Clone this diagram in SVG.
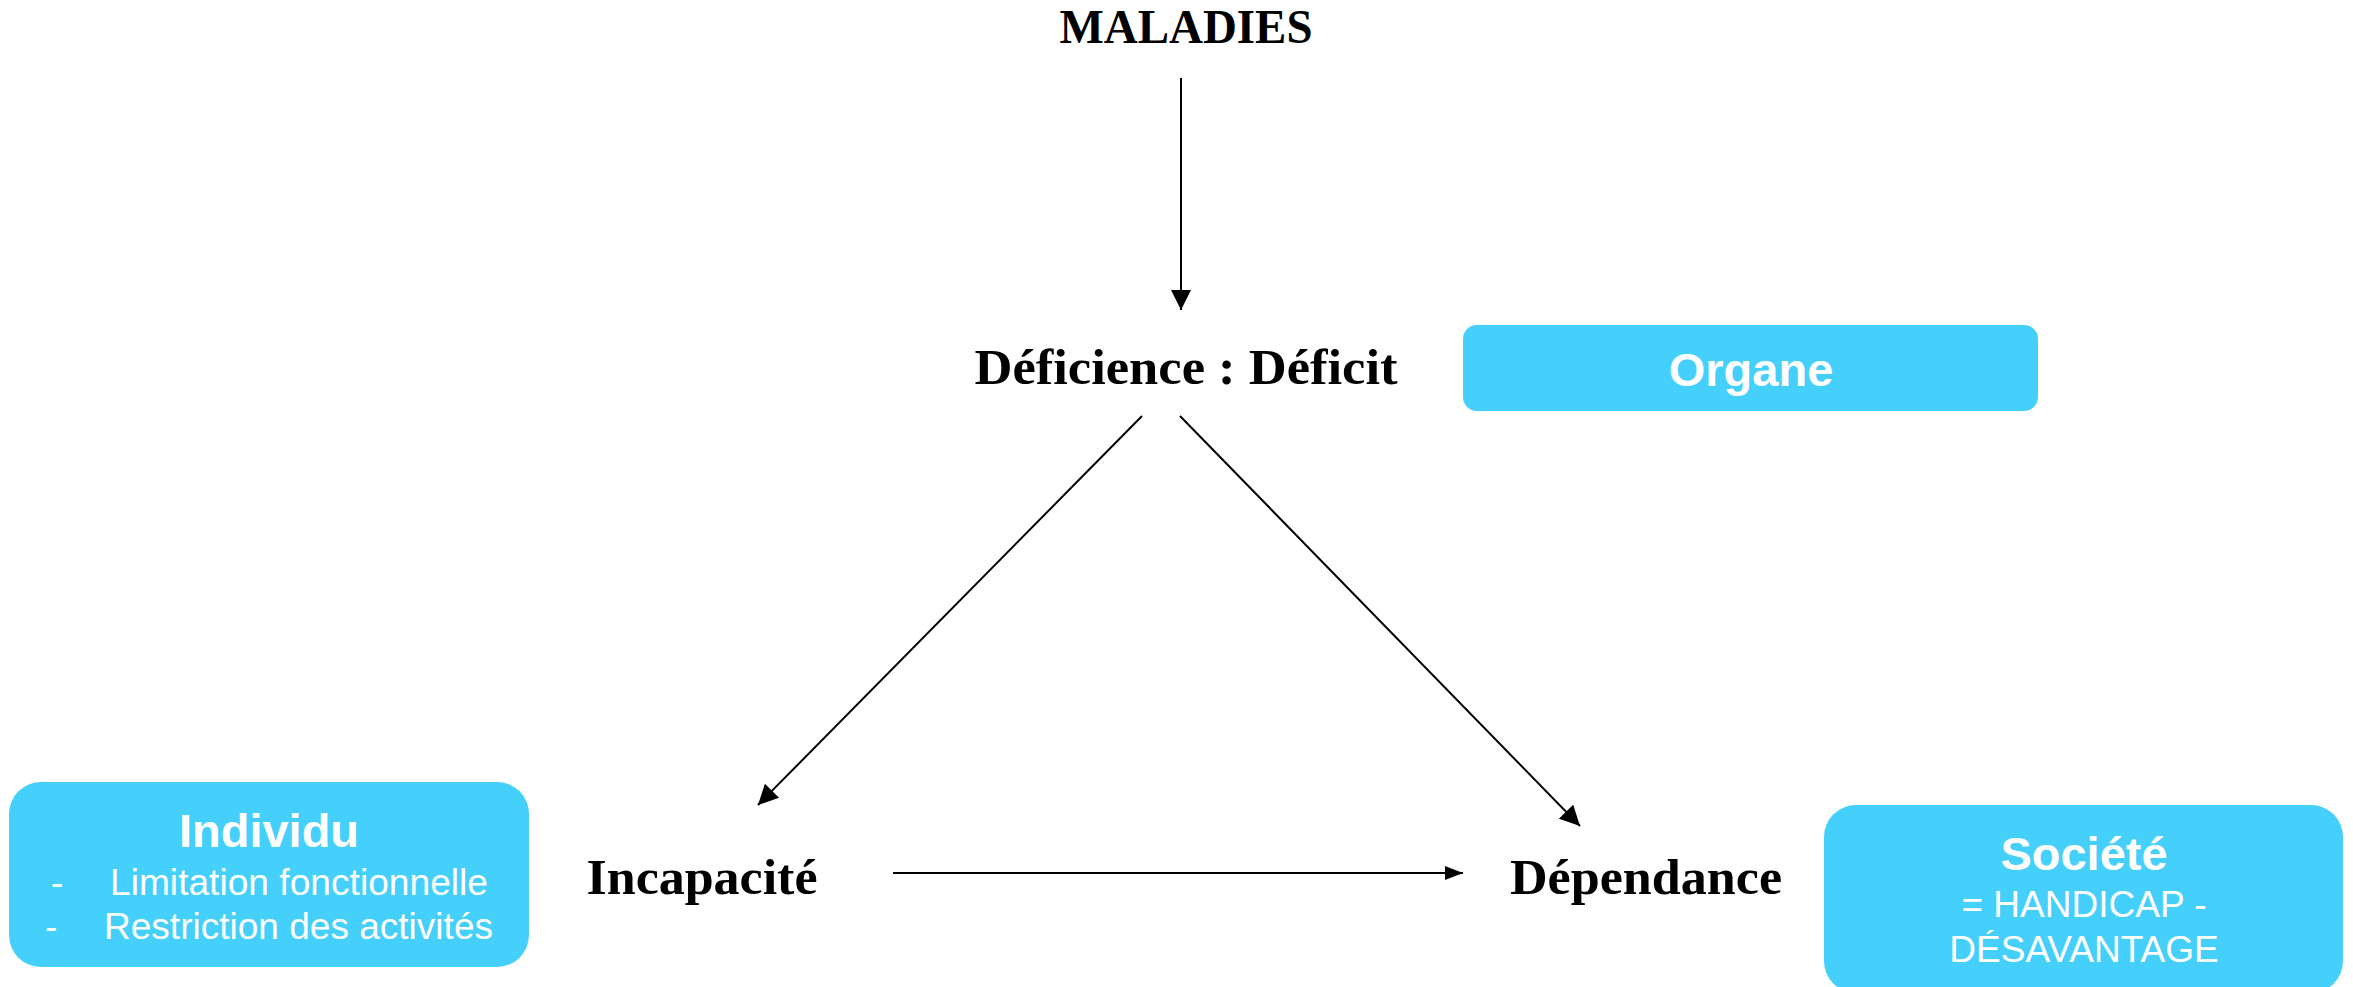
<svg xmlns="http://www.w3.org/2000/svg" width="2353" height="987" viewBox="0 0 2353 987">
  <style>
    .serif { font-family: "Liberation Serif", "Times New Roman", serif; font-weight: bold; fill: #000; }
    .box { fill: #45CFFB; }
    .bt { font-family: "Liberation Sans", Arial, sans-serif; fill: #fff; }
    .b { font-weight: bold; }
    .conn { stroke: #000; stroke-width: 2; fill: none; }
  </style>
  <defs>
    <marker id="arr" viewBox="0 0 20 20" refX="20" refY="10" markerWidth="20" markerHeight="20" markerUnits="userSpaceOnUse" orient="auto">
      <path d="M0,0 L20,10 L0,20 Z" fill="#000"/>
    </marker>
    <marker id="arrS" viewBox="0 0 18 14" refX="18" refY="7" markerWidth="18" markerHeight="14" markerUnits="userSpaceOnUse" orient="auto">
      <path d="M0,0 L18,7 L0,14 Z" fill="#000"/>
    </marker>
  </defs>
  <rect width="2353" height="987" fill="#fff"/>

  <g id="maladies">
    <text class="serif" x="1186" y="43" font-size="48" text-anchor="middle" textLength="253" lengthAdjust="spacingAndGlyphs">MALADIES</text>
  </g>
  <g id="deficience">
    <text class="serif" x="1186" y="384" font-size="50" text-anchor="middle" textLength="423" lengthAdjust="spacingAndGlyphs">Déficience : Déficit</text>
  </g>
  <g id="incapacite">
    <text class="serif" x="702" y="894" font-size="50" text-anchor="middle" textLength="231" lengthAdjust="spacingAndGlyphs">Incapacité</text>
  </g>
  <g id="dependance">
    <text class="serif" x="1646" y="894" font-size="50" text-anchor="middle" textLength="272" lengthAdjust="spacingAndGlyphs">Dépendance</text>
  </g>

  <g id="organe">
    <rect class="box" x="1463" y="325" width="575" height="86" rx="14"/>
    <text class="bt b" x="1751" y="386" font-size="47" text-anchor="middle">Organe</text>
  </g>
  <g id="individu">
    <rect class="box" x="9" y="782" width="520" height="185" rx="32"/>
    <text class="bt b" x="269" y="847" font-size="47" text-anchor="middle">Individu</text>
    <text class="bt" x="51" y="895" font-size="37">-</text>
    <text class="bt" x="110" y="895" font-size="37" textLength="378" lengthAdjust="spacingAndGlyphs">Limitation fonctionnelle</text>
    <text class="bt" x="45" y="939" font-size="37">-</text>
    <text class="bt" x="104" y="939" font-size="37" textLength="389" lengthAdjust="spacingAndGlyphs">Restriction des activités</text>
  </g>
  <g id="societe">
    <rect class="box" x="1824" y="805" width="519" height="188" rx="32"/>
    <text class="bt b" x="2084" y="870" font-size="47" text-anchor="middle">Société</text>
    <text class="bt" x="2084" y="917" font-size="37" text-anchor="middle">= HANDICAP -</text>
    <text class="bt" x="2084" y="962" font-size="37" text-anchor="middle">DÉSAVANTAGE</text>
  </g>

  <g id="connectors">
    <line class="conn" x1="1181" y1="78" x2="1181" y2="310" marker-end="url(#arr)"/>
    <line class="conn" x1="1142" y1="416" x2="758" y2="805" marker-end="url(#arr)"/>
    <line class="conn" x1="1180" y1="416" x2="1580" y2="826" marker-end="url(#arr)"/>
    <line class="conn" x1="893" y1="873" x2="1463" y2="873" marker-end="url(#arrS)"/>
  </g>
</svg>
